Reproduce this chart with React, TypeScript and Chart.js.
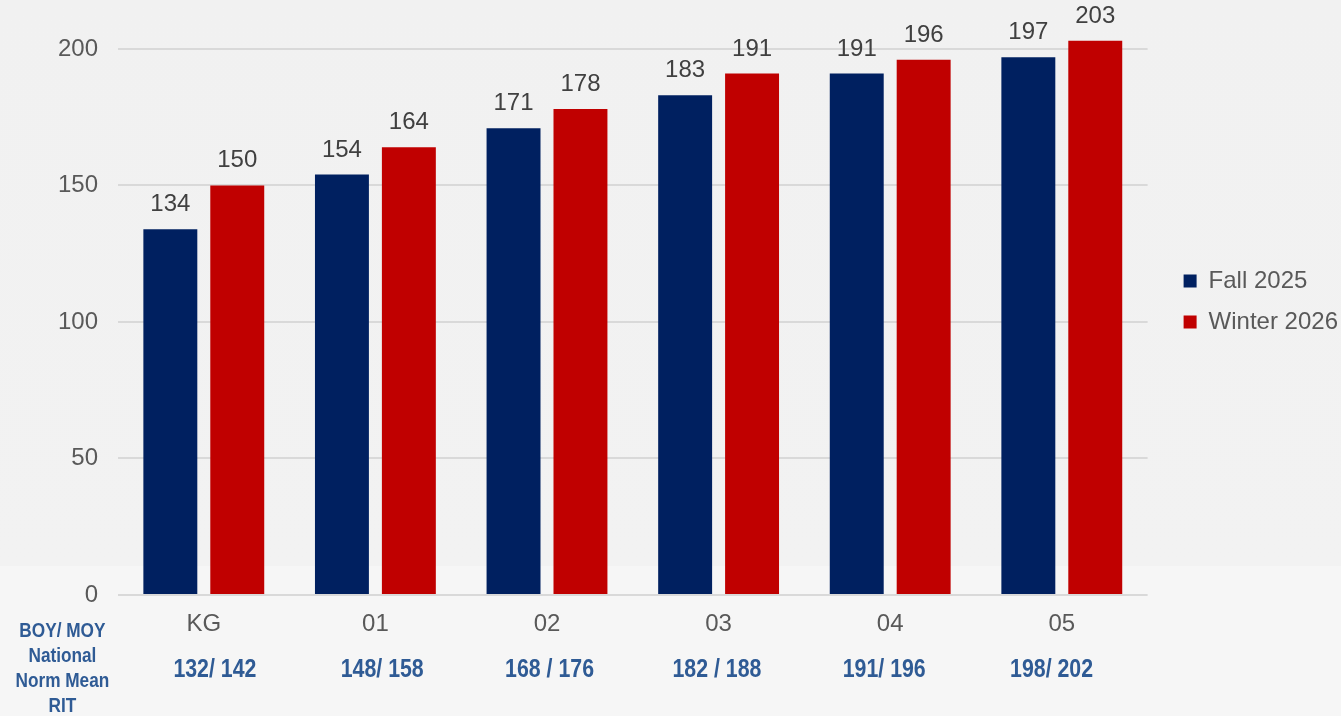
import React, { useEffect, useRef } from "react";
import { Chart, registerables } from "chart.js";

Chart.register(...registerables);

const categories = ["KG", "01", "02", "03", "04", "05"];
const fall2025 = [134, 154, 171, 183, 191, 197];
const winter2026 = [150, 164, 178, 191, 196, 203];
const normLabels = ["132/ 142", "148/ 158", "168 / 176", "182 / 188", "191/ 196", "198/ 202"];
const seriesNames = ["Fall 2025", "Winter 2026"];
const yMax = 215;
const yStep = 50;
// the norm row is laid out on its own slightly narrower spacing than the categories
const normAxisMin = -0.579;
const normAxisMax = 5.574;

const FONT = "'Liberation Sans', Arial, sans-serif";
const NORM_COLOR = "#2F5B95";
const NARROW_SCALE = 0.82;

const valueLabels = {
  id: "valueLabels",
  afterDatasetsDraw(chart: any) {
    const { ctx } = chart;
    ctx.save();
    ctx.font = `24px ${FONT}`;
    ctx.fillStyle = "#404040";
    ctx.textAlign = "center";
    ctx.textBaseline = "alphabetic";
    chart.data.datasets.forEach((ds: any, i: number) => {
      const meta = chart.getDatasetMeta(i);
      meta.data.forEach((el: any, j: number) => {
        ctx.fillText(String(ds.data[j]), el.x, el.y - 18);
      });
    });
    ctx.restore();
  },
};

// draws the x2 (norm) tick labels in a condensed form at the positions the scale computed
const narrowTicks = {
  id: "narrowTicks",
  afterDraw(chart: any) {
    const sc = chart.scales.x2;
    if (!sc) return;
    const { ctx } = chart;
    const items = sc.getLabelItems();
    ctx.save();
    ctx.fillStyle = NORM_COLOR;
    ctx.font = `bold 26px ${FONT}`;
    items.forEach((item: any) => {
      const [tx, ty] = item.options.translation;
      ctx.save();
      ctx.translate(tx, ty);
      ctx.scale(NARROW_SCALE, 1);
      ctx.textAlign = "center";
      ctx.textBaseline = item.options.textBaseline;
      ctx.fillText(String(item.label), 0, item.textOffset);
      ctx.restore();
    });
    ctx.restore();
  },
};

export default function App() {
  const ref = useRef<HTMLCanvasElement>(null);
  useEffect(() => {
    if (!ref.current) return;
    const chart = new Chart(ref.current, {
      type: "bar",
      data: {
        labels: categories,
        datasets: [
          {
            label: seriesNames[0],
            data: fall2025,
            backgroundColor: "#002060",
            borderWidth: 0,
            xAxisID: "x",
            yAxisID: "y",
          },
          {
            label: seriesNames[1],
            data: winter2026,
            backgroundColor: "#C00000",
            borderWidth: 0,
            xAxisID: "x",
            yAxisID: "y",
          },
        ],
      },
      options: {
        responsive: false,
        animation: false,
        layout: { padding: { top: 8, bottom: 31, left: 0, right: -7 } },
        datasets: { bar: { categoryPercentage: 0.78, barPercentage: 0.806 } },
        plugins: {
          tooltip: { enabled: false },
          legend: {
            position: "right",
            align: "center",
            fullSize: false,
            labels: {
              boxWidth: 13,
              boxHeight: 13,
              padding: 17,
              color: "#595959",
              font: { family: FONT, size: 24 },
            },
          },
        },
        scales: {
          x: {
            type: "category",
            position: "bottom",
            weight: 0,
            grid: { display: false, drawTicks: false },
            border: { display: false },
            ticks: { color: "#595959", font: { family: FONT, size: 24 }, padding: 15 },
          },
          x2: {
            type: "linear",
            position: "bottom",
            weight: 1,
            offset: false,
            bounds: "data",
            min: normAxisMin,
            max: normAxisMax,
            afterBuildTicks: (s: any) => {
              s.ticks = normLabels.map((_, i) => ({ value: i }));
            },
            grid: { display: false, drawTicks: false, offset: false },
            border: { display: false },
            ticks: {
              color: "rgba(0,0,0,0)",
              font: { family: FONT, size: 26, weight: "bold" },
              padding: 0,
              autoSkip: false,
              includeBounds: false,
              maxRotation: 0,
              callback: (v: any) => normLabels[Math.round(Number(v))] ?? "",
            },
          },
          y: {
            type: "linear",
            position: "left",
            min: 0,
            max: yMax,
            ticks: {
              stepSize: yStep,
              color: "#595959",
              font: { family: FONT, size: 24 },
              padding: 20,
            },
            afterBuildTicks: (s: any) => {
              s.ticks = s.ticks.filter((t: any) => t.value % yStep === 0);
            },
            afterFit: (s: any) => {
              s.width = 118;
              s.paddingTop = 0;
              s.paddingBottom = 0;
            },
            grid: { color: "#d9d9d9", lineWidth: 2, drawTicks: false },
            border: { display: false },
          },
          yR: {
            type: "linear",
            position: "right",
            display: true,
            grid: { display: false, drawTicks: false },
            ticks: { display: false },
            border: { display: false },
            afterFit: (s: any) => {
              s.width = 19;
              s.paddingTop = 0;
              s.paddingBottom = 0;
            },
          },
        },
      },
      plugins: [valueLabels, narrowTicks],
    });
    return () => chart.destroy();
  }, []);

  return (
    <div
      style={{
        position: "fixed",
        left: 0,
        top: 0,
        width: 1341,
        height: 716,
        background: "linear-gradient(to bottom, #f1f1f1 0px, #f2f2f2 566px, #f6f6f6 566px, #f6f6f6 716px)",
        overflow: "hidden",
      }}
    >
      <canvas ref={ref} width={1341} height={716} style={{ position: "absolute", left: 0, top: 0 }} />
      <div
        style={{
          position: "absolute",
          left: 0,
          top: 617,
          width: 125,
          textAlign: "center",
          fontFamily: FONT,
          fontWeight: "bold",
          fontSize: 21,
          lineHeight: "25px",
          color: NORM_COLOR,
          transform: `scaleX(${NARROW_SCALE})`,
          transformOrigin: "62px 0",
        }}
      >
        BOY/ MOY
        <br />
        National
        <br />
        Norm Mean
        <br />
        RIT
      </div>
    </div>
  );
}
